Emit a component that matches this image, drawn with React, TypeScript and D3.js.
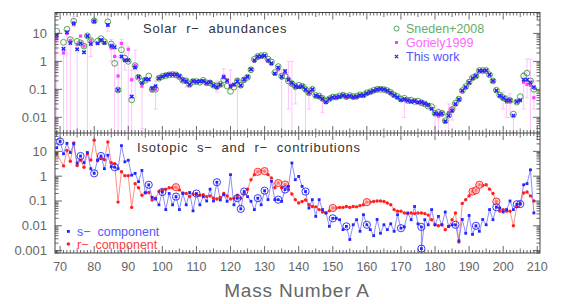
import React from 'react';
import * as d3 from 'd3';

// mass numbers start here, one entry per A up to 209
const A_START = 69;

// upper panel: solar r-abundances
const thisWork = [
  8.7, null, 2.8, 11, 4.5, 22, 2.7, 4.4, 2.1, 8,
  4.2, 27, 4.4, 5.8, 4.6, 20, 3.6, 3.2, 0.095, 1.5,
  1.1, 1.1, 0.055, 0.6, 0.28, 0.17, 0.23, 0.23, 0.11, 0.13,
  0.25, 0.285, 0.32, 0.34, 0.34, 0.34, 0.3, 0.22, 0.19, 0.15,
  0.2, 0.19, 0.19, 0.2, 0.17, 0.18, 0.14, 0.12, 0.15, 0.27,
  0.2, 0.13, 0.15, 0.19, 0.14, 0.23, 0.28, 0.52, 1.1, 1.5,
  1.5, 1.6, 1.1, 0.86, 0.37, 0.6, 0.29, 0.45, 0.22, 0.17,
  0.13, 0.12, 0.13, 0.1, 0.078, 0.1, 0.06, 0.055, 0.046, 0.035,
  0.046, 0.052, 0.052, 0.055, 0.062, 0.055, 0.058, 0.053, 0.055, 0.062,
  0.062, 0.073, 0.08, 0.09, 0.1, 0.105, 0.1, 0.09, 0.075, 0.062,
  0.052, 0.042, 0.044, 0.039, 0.036, 0.038, 0.034, 0.035, 0.031, 0.028,
  0.02, 0.014, 0.013, 0.014, 0.0072, 0.0115, 0.017, 0.03, 0.044, 0.09,
  0.12, 0.175, 0.25, 0.3, 0.46, 0.46, 0.47, 0.33, 0.2, 0.091,
  0.06, 0.05, 0.041, 0.041, 0.0115, 0.036, 0.041, 0.22, 0.22, 0.175,
  0.12,
];

const sneden2008 = [
  12, null, 4.8, 14, 6, 27, 5.2, 4.6, 3.5, 8.2,
  5.5, 28, 5.3, 6.5, 5, 26, 4.2, 0.85, 0.095, 2.6,
  1.3, 1.0, 0.042, 0.7, 0.27, 0.19, 0.21, 0.3, 0.1, 0.1,
  0.25, 0.29, 0.31, 0.33, 0.34, 0.33, 0.28, 0.21, 0.2, 0.15,
  0.19, 0.19, 0.18, 0.21, 0.17, 0.17, 0.14, 0.13, 0.15, 0.22,
  0.13, 0.085, 0.12, 0.2, 0.14, 0.22, 0.27, 0.5, 1.2, 1.5,
  1.6, 1.65, 1.2, 0.95, 0.4, 0.65, 0.3, 0.3, 0.2, 0.16,
  0.13, 0.14, 0.13, 0.1, 0.075, 0.1, 0.06, 0.058, 0.047, 0.038,
  0.046, 0.053, 0.053, 0.058, 0.062, 0.055, 0.06, 0.055, 0.057, 0.064,
  0.063, 0.075, 0.082, 0.092, 0.1, 0.1, 0.098, 0.09, 0.078, 0.063,
  0.055, 0.045, 0.048, 0.04, 0.041, 0.037, 0.038, 0.033, 0.03, 0.025,
  0.024, 0.014, 0.015, 0.014, 0.0075, 0.012, 0.019, 0.032, 0.045, 0.09,
  0.125, 0.18, 0.26, 0.3, 0.47, 0.47, 0.47, 0.33, 0.2, 0.093,
  0.062, 0.05, 0.043, 0.04, 0.013, 0.035, 0.055, 0.3, 0.38, 0.2,
  0.1,
];

const goriely1999 = [
  6.5, null, 2.0, 10, 5.5, 24, 4.0, 8, 3.5, 8,
  5.5, 27, 4.5, 5.8, 4.5, 20, 3.0, 1.5, 0.3, 4.4,
  1.1, 2.7, 0.22, 0.7, 0.27, 0.13, 0.22, 0.22, 0.09, 0.1,
  0.25, 0.29, 0.33, 0.35, 0.35, 0.33, 0.27, 0.2, 0.2, 0.14,
  0.19, 0.18, 0.2, 0.2, 0.16, 0.19, 0.13, 0.11, 0.14, 0.3,
  0.22, 0.14, 0.14, 0.22, 0.13, 0.2, 0.28, 0.5, 1.0, 1.3,
  1.5, 1.6, 1.0, 0.8, 0.35, 0.5, 0.25, 0.38, 0.25, 0.15,
  0.11, 0.12, 0.12, 0.09, 0.07, 0.09, 0.055, 0.05, 0.044, 0.034,
  0.045, 0.05, 0.05, 0.052, 0.06, 0.05, 0.058, 0.05, 0.05, 0.06,
  0.058, 0.07, 0.075, 0.085, 0.09, 0.1, 0.095, 0.085, 0.07, 0.06,
  0.05, 0.04, 0.045, 0.044, 0.04, 0.037, 0.035, 0.032, 0.03, 0.026,
  0.02, 0.013, 0.011, 0.012, 0.007, 0.015, 0.02, 0.028, 0.04, 0.085,
  0.12, 0.17, 0.24, 0.3, 0.45, 0.45, 0.46, 0.33, 0.2, 0.09,
  0.055, 0.045, 0.035, 0.037, 0.0025, 0.036, 0.04, 0.18, 0.15, 0.14,
  0.05,
];

// Goriely error bars (A, low, high); low 0.001 = runs off the bottom
const gorErrA = [69, 71, 72, 73, 74, 75, 78, 79, 84, 85, 86, 87, 88, 89, 90, 91, 92, 94, 98, 107, 116, 118, 120, 122, 135, 137, 138, 139, 142, 143, 147, 171, 180, 181, 184, 185, 186, 200, 201, 202, 203, 206, 207, 208, 209];
const gorErrLo = [0.001, 0.001, 0.001, 0.001, 17, 0.001, 0.001, 1.5, 12, 1, 0.001, 0.001, 0.001, 0.5, 0.001, 0.001, 0.05, 0.004, 0.02, 0.12, 0.08, 0.12, 0.1, 0.001, 0.001, 0.02, 0.001, 0.03, 0.001, 0.02, 0.015, 0.01, 0.003, 0.003, 0.003, 0.008, 0.02, 0.02, 0.01, 0.01, 0.001, 0.02, 0.05, 0.003, 0.02];
const gorErrHi = [9, 2.5, 13, 7, 40, 5, 9, 7, 45, 6, 4, 1.5, 6, 2, 3.5, 0.5, 2.5, 0.16, 0.2, 0.25, 0.2, 0.55, 0.5, 0.25, 0.5, 1.0, 1.0, 0.15, 0.15, 0.1, 0.06, 0.05, 0.025, 0.02, 0.03, 0.03, 0.04, 0.08, 0.06, 0.07, 0.01, 0.4, 1.2, 1.2, 0.2];

// lower panel: isotopic s- and r- contributions
const sComponent = [
  14, 25, 8, 21, 9, 20, 3.4, 6.5, 3.5, 9,
  2, 1.3, 4.5, 6.5, 2, 7, 2.4, 2.3, 2, 17,
  3.8, 4.4, 1.1, 1.3, 0.6, 1.7, 0.21, 0.45, 0.14, 0.12,
  0.07, 0.23, 0.045, 0.2, 0.07, 0.15, 0.045, 0.2, 0.07, 0.22,
  0.04, 0.2, 0.07, 0.15, 0.1, 0.3, 0.1, 0.57, 0.11, 0.18,
  0.097, 1.15, 0.07, 0.13, 0.048, 0.24, 0.15, 0.097, 0.045, 0.13,
  0.07, 0.26, 0.113, 0.62, 0.113, 0.113, 0.097, 0.29, 0.39, 3.4,
  0.72, 0.98, 0.39, 0.24, 0.052, 0.113, 0.024, 0.113, 0.045, 0.033,
  0.0095, 0.02, 0.02, 0.0176, 0.007, 0.0095, 0.0028, 0.011, 0.0176, 0.006,
  0.028, 0.011, 0.007, 0.004, 0.018, 0.005, 0.011, 0.007, 0.012, 0.006,
  0.028, 0.008, 0.009, 0.033, 0.0176, 0.06, 0.012, 0.0012, 0.0176, 0.011,
  0.045, 0.011, 0.024, 0.011, 0.036, 0.0095, 0.011, 0.011, 0.0025, 0.018,
  0.005, 0.026, 0.0045, 0.01, 0.006, 0.018, 0.011, 0.045, 0.0176, 0.056,
  0.052, 0.036, 0.045, 0.1, 0.045, 0.074, 0.075, 0.45, 0.5, 1.8,
  0.033,
];

const rComponent = [
  8, null, 2.6, 11, 4, 22, 2.7, 4.4, 2.3, 8,
  4.5, 28, 4.2, 5.5, 4.6, 24, 3.5, 3.2, 0.09, 1.5,
  1.05, 1.05, 0.055, 0.5, 0.34, 0.17, 0.22, 0.22, 0.11, 0.13,
  0.24, 0.28, 0.3, 0.34, 0.34, 0.36, 0.28, 0.21, 0.2, 0.15,
  0.19, 0.18, 0.17, 0.18, 0.15, 0.16, 0.13, 0.12, 0.14, 0.2,
  0.16, 0.12, 0.13, 0.17, 0.13, 0.2, 0.3, 0.72, 1.15, 1.5,
  1.6, 1.6, 1.15, 0.85, 0.34, 0.53, 0.34, 0.46, 0.29, 0.19,
  0.113, 0.083, 0.095, 0.11, 0.07, 0.06, 0.058, 0.045, 0.036, 0.033,
  0.04, 0.052, 0.052, 0.055, 0.055, 0.06, 0.055, 0.06, 0.058, 0.065,
  0.07, 0.09, 0.09, 0.095, 0.1, 0.1, 0.095, 0.083, 0.07, 0.045,
  0.039, 0.039, 0.033, 0.031, 0.033, 0.031, 0.033, 0.033, 0.031, 0.027,
  0.0176, 0.011, 0.01, 0.011, 0.007, 0.0095, 0.0176, 0.033, 0.0022, 0.08,
  0.113, 0.16, 0.24, 0.27, 0.45, 0.42, 0.45, 0.3, 0.2, 0.095,
  0.039, 0.045, 0.039, 0.039, 0.01, 0.06, 0.08, 0.21, 0.23, 0.16,
  0.1,
];

// second isobar at A=176
const sExtraA = [176];
const sExtraV = [0.009];

// circled isotopes
const sCircled = [70, 76, 80, 82, 86, 96, 100, 104, 110, 116, 122, 123, 124, 128, 130, 134, 136, 142, 150, 154, 160, 170, 176, 186, 192, 198, 204, 205];
const rCircled = [104, 128, 130, 134, 136, 150, 160, 191, 192, 193, 198];

const xTicks = [70, 80, 90, 100, 110, 120, 130, 140, 150, 160, 170, 180, 190, 200, 210];
const upperTicks = [10, 1, 0.1, 0.01];
const lowerTicks = [10, 1, 0.1, 0.01, 0.001];
const upperTickLabels = ['10', '1', '0.1', '0.01'];
const lowerTickLabels = ['10', '1', '0.1', '0.01', '0.001'];

const W = 568;
const H = 304;
const FONT = 'Liberation Sans, Arial, sans-serif';
const AXIS = '#444';
const BLUE = '#2424ff';
const RED = '#ff1f1f';
const GREEN = '#3f9a3f';
const MAGENTA = '#ff3cff';

type Pt = { a: number; v: number };

function toPoints(vals: (number | null)[]): Pt[] {
  return vals
    .map((v, i) => ({ a: A_START + i, v: v as number }))
    .filter((p) => p.v != null);
}

function logMinor(domain: number[]) {
  const out: { v: number; major: boolean }[] = [];
  const lo = Math.floor(Math.log10(domain[0]));
  const hi = Math.ceil(Math.log10(domain[1]));
  for (let d = lo; d <= hi; d++) {
    for (let k = 1; k <= 9; k++) {
      const v = k * Math.pow(10, d);
      if (v >= domain[0] && v <= domain[1]) out.push({ v, major: k === 1 });
    }
  }
  return out;
}

export default function App() {
  const left = 55;
  const right = 540;
  const top = 12.5;
  const mid = 133;
  const bottom = 253;

  const x = d3.scaleLinear().domain([68.5, 210.8]).range([left, right]);
  const yU = d3.scaleLog().domain([0.00275, 55.8]).range([mid, top]);
  const yL = d3.scaleLog().domain([0.0008, 55]).range([bottom, mid]);

  const tw = toPoints(thisWork);
  const sn = toPoints(sneden2008);
  const go = toPoints(goriely1999);
  const sPts = toPoints(sComponent)
    .concat(sExtraA.map((a, i) => ({ a, v: sExtraV[i] })))
    .sort((p, q) => p.a - q.a || q.v - p.v);
  const rPts = toPoints(rComponent);

  const sLine = d3.line<Pt>().x((p) => x(p.a)).y((p) => yL(p.v));
  const rLine = d3.line<Pt>().x((p) => x(p.a)).y((p) => yL(p.v));

  // x tick marks along a horizontal edge, dir = +1 pointing down, -1 up
  const xTickMarks = (y: number, dir: number, key: string) => {
    const marks = [];
    for (let a = 69; a <= 210; a++) {
      const len = a % 10 === 0 ? 7 : a % 5 === 0 ? 4.5 : 3;
      marks.push(
        <line key={key + a} x1={x(a)} x2={x(a)} y1={y} y2={y + dir * len} stroke={AXIS} strokeWidth={0.8} />
      );
    }
    return marks;
  };

  const yTickMarks = (scale: d3.ScaleLogarithmic<number, number>, key: string) => {
    const dom = scale.domain();
    return logMinor(dom).map((t, i) => {
      const len = t.major ? 7 : 3.5;
      const yy = scale(t.v);
      return (
        <g key={key + i}>
          <line x1={left} x2={left + len} y1={yy} y2={yy} stroke={AXIS} strokeWidth={0.8} />
          <line x1={right} x2={right - len} y1={yy} y2={yy} stroke={AXIS} strokeWidth={0.8} />
        </g>
      );
    });
  };

  const cross = (cx: number, cy: number, s: number) =>
    `M${cx - s},${cy - s}L${cx + s},${cy + s}M${cx - s},${cy + s}L${cx + s},${cy - s}`;

  return (
    <svg
      width={W}
      height={H}
      style={{ position: 'absolute', left: 0, top: 0, background: '#fff' }}
      fontFamily={FONT}
    >
      <defs>
        <clipPath id="clipU">
          <rect x={left} y={top} width={right - left} height={mid - top} />
        </clipPath>
        <clipPath id="clipL">
          <rect x={left} y={mid} width={right - left} height={bottom - mid} />
        </clipPath>
      </defs>

      {/* upper panel */}
      <g clipPath="url(#clipU)">
        {gorErrA.map((a, i) => {
          const y1 = yU(Math.max(gorErrLo[i], 0.001));
          const y2 = yU(gorErrHi[i]);
          return (
            <g key={'eb' + i} stroke="#ffb4ff" strokeWidth={0.8}>
              <line x1={x(a)} x2={x(a)} y1={y1} y2={y2} />
              <line x1={x(a) - 2} x2={x(a) + 2} y1={y2} y2={y2} />
              <line x1={x(a) - 2} x2={x(a) + 2} y1={y1} y2={y1} />
            </g>
          );
        })}
        {go.map((p) => (
          <rect key={'g' + p.a} x={x(p.a) - 1.6} y={yU(p.v) - 1.6} width={3.2} height={3.2} fill={MAGENTA} />
        ))}
        {sn.map((p) => (
          <circle key={'s' + p.a} cx={x(p.a)} cy={yU(p.v)} r={2.9} fill="none" stroke={GREEN} strokeWidth={0.9} />
        ))}
        {tw.map((p) => (
          <path key={'t' + p.a} d={cross(x(p.a), yU(p.v), 1.7)} stroke={BLUE} strokeWidth={1.5} fill="none" />
        ))}
      </g>

      {/* lower panel */}
      <g clipPath="url(#clipL)">
        <path d={rLine(rPts) || ''} fill="none" stroke="#ff7070" strokeWidth={0.8} />
        <path d={sLine(sPts) || ''} fill="none" stroke="#7070ff" strokeWidth={0.8} />
        {rPts.map((p) => (
          <circle key={'r' + p.a} cx={x(p.a)} cy={yL(p.v)} r={1.7} fill={RED} />
        ))}
        {rPts
          .filter((p) => rCircled.includes(p.a))
          .map((p) => (
            <circle key={'rc' + p.a} cx={x(p.a)} cy={yL(p.v)} r={3.6} fill="#ffb0b0" fillOpacity={0.6} stroke={RED} strokeWidth={0.9} />
          ))}
        {sPts.map((p, i) => (
          <rect key={'sp' + i} x={x(p.a) - 1.4} y={yL(p.v) - 1.4} width={2.8} height={2.8} fill={BLUE} />
        ))}
        {sPts
          .filter((p) => sCircled.includes(p.a))
          .map((p, i) => (
            <circle key={'sc' + i} cx={x(p.a)} cy={yL(p.v)} r={3.6} fill="none" stroke={BLUE} strokeWidth={0.9} />
          ))}
      </g>

      {/* frames and ticks */}
      <rect x={left} y={top} width={right - left} height={bottom - top} fill="none" stroke={AXIS} strokeWidth={1} />
      <line x1={left} x2={right} y1={mid} y2={mid} stroke={AXIS} strokeWidth={1} />
      {xTickMarks(top, 1, 'tt')}
      {xTickMarks(mid, -1, 'mu')}
      {xTickMarks(mid, 1, 'md')}
      {xTickMarks(bottom, -1, 'bb')}
      {yTickMarks(yU, 'yu')}
      {yTickMarks(yL, 'yl')}

      {/* tick labels */}
      <g fontSize={13} fill="#666" textAnchor="end">
        {upperTicks.map((t, i) => (
          <text key={'ul' + i} x={47} y={yU(t) + 4.5}>{upperTickLabels[i]}</text>
        ))}
        {lowerTicks.map((t, i) => (
          <text key={'ll' + i} x={47} y={yL(t) + 4.5}>{lowerTickLabels[i]}</text>
        ))}
      </g>
      <g fontSize={12.5} fill="#666" textAnchor="middle">
        {xTicks.map((t) => (
          <text key={'xl' + t} x={x(t)} y={271}>{t}</text>
        ))}
      </g>
      <text x={297} y={297} fontSize={19} fill="#666" textAnchor="middle" letterSpacing={0.8}>
        Mass Number A
      </text>

      {/* titles */}
      <text x={143} y={33} fontSize={13} fill="#333" letterSpacing={0.8} style={{ whiteSpace: 'pre' }}>
        {'Solar  r\u2212  abundances'}
      </text>
      <text x={137} y={151.5} fontSize={13} fill="#333" letterSpacing={0.8} style={{ whiteSpace: 'pre' }}>
        {'Isotopic  s\u2212  and  r\u2212  contributions'}
      </text>

      {/* upper legend */}
      <circle cx={396.5} cy={28.5} r={2.5} fill="none" stroke={GREEN} strokeWidth={0.9} />
      <text x={406} y={33} fontSize={12.5} fill="#66ad66">Sneden+2008</text>
      <rect x={395} y={41} width={3} height={3} fill={MAGENTA} />
      <text x={406} y={47} fontSize={12.5} fill="#ff66ff">Goriely1999</text>
      <path d={cross(396.5, 56.5, 1.6)} stroke={BLUE} strokeWidth={1.2} />
      <text x={406} y={61} fontSize={12.5} fill="#5555ff">This work</text>

      {/* lower legend */}
      <rect x={67} y={230} width={2.8} height={2.8} fill={BLUE} />
      <text x={77} y={235.5} fontSize={12.5} fill="#5555ff" style={{ whiteSpace: 'pre' }}>{'s\u2212  component'}</text>
      <circle cx={68.4} cy={244} r={1.8} fill={RED} />
      <text x={77} y={248.5} fontSize={12.5} fill="#ff4040" style={{ whiteSpace: 'pre' }}>{'r\u2212  component'}</text>
    </svg>
  );
}
